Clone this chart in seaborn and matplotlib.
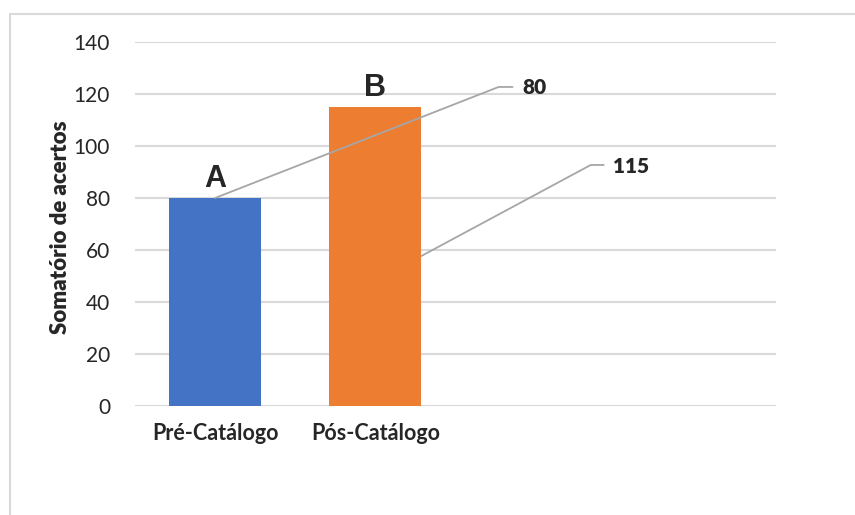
import pandas as pd
import seaborn as sns
import matplotlib.pyplot as plt
from matplotlib.lines import Line2D

# chart values
categories = ['Pré-Catálogo', 'Pós-Catálogo']
acertos = [80, 115]
letters = ['A', 'B']
bar_colors = ['#4472C4', '#ED7D31']
yticks = [0, 20, 40, 60, 80, 100, 120, 140]

df = pd.DataFrame({'grupo': categories, 'acertos': acertos})

sns.set_style('white')
plt.rcParams['font.family'] = ['Lato', 'DejaVu Sans']

fig = plt.figure(figsize=(8.55, 5.15), dpi=100)
ax = fig.add_axes([0.1579, 0.2117, 0.7497, 0.7068])

sns.barplot(data=df, x='grupo', y='acertos', hue='grupo', palette=bar_colors,
            width=0.575, legend=False, ax=ax, saturation=1, linewidth=0, zorder=3)

ax.set_xlim(-0.5, 3.5)
ax.set_ylim(0, 140)
ax.set_yticks(yticks)
ax.set_xticks(range(len(categories)))
ax.set_xticklabels(categories, fontsize=15.5, fontweight='bold')
ax.tick_params(axis='y', labelsize=15, length=0, pad=18)
ax.tick_params(axis='x', length=0, pad=12)
ax.grid(axis='y', color='#d9d9d9', linewidth=1.5, zorder=0)
for s in ax.spines.values():
    s.set_visible(False)
ax.set_xlabel('')
ax.set_ylabel('Somatório de acertos', fontsize=16, fontweight='heavy')
ax.yaxis.set_label_coords(-0.10, 0.49)

# letters above bars
for i, (v, t) in enumerate(zip(acertos, letters)):
    ax.text(i, v + 1.5, t, ha='center', va='bottom', fontsize=22,
            fontweight='bold', family='Liberation Sans', zorder=4)

# data labels with leader lines (Excel style)
lead = '#a6a6a6'
ax.plot([0, 1.769, 1.856], [acertos[0], 122.7, 122.7], color=lead, lw=1.3, zorder=4)
ax.text(1.92, 122.5, str(acertos[0]), ha='left', va='center', fontsize=15,
        fontweight='heavy', zorder=4)
ax.plot([1.2875, 2.344, 2.425], [57.7, 92.7, 92.7], color=lead, lw=1.3, zorder=4)
ax.text(2.48, 92.0, str(acertos[1]), ha='left', va='center', fontsize=15,
        fontweight='heavy', zorder=4)

# chart-area border
fig.add_artist(Line2D([9.5 / 855, 1], [1 - 13.5 / 515, 1 - 13.5 / 515],
                      color='#d9d9d9', lw=1.5, transform=fig.transFigure))
fig.add_artist(Line2D([9.5 / 855, 9.5 / 855], [0, 1 - 13.5 / 515],
                      color='#d9d9d9', lw=1.5, transform=fig.transFigure))

fig.savefig('out.png', dpi=100)
